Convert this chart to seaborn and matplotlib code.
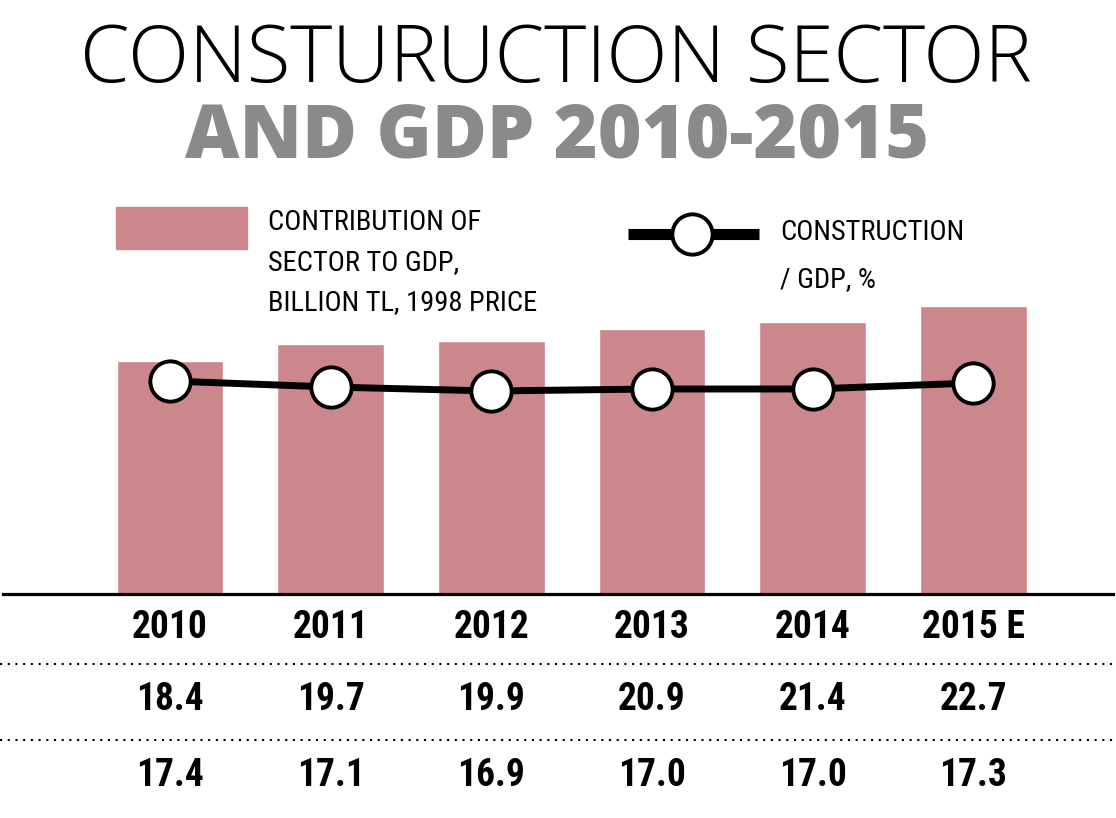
import matplotlib
matplotlib.use("Agg")
import matplotlib.pyplot as plt
import seaborn as sns
import pandas as pd
from matplotlib.lines import Line2D
from matplotlib.patches import Rectangle

# data
years = ['2010', '2011', '2012', '2013', '2014', '2015 E']
contribution = [18.4, 19.7, 19.9, 20.9, 21.4, 22.7]   # billion TL, 1998 price
share = [17.4, 17.1, 16.9, 17.0, 17.0, 17.3]          # construction / GDP, %

df = pd.DataFrame({'year': years, 'contribution': contribution, 'share': share})

pink = '#cb878c'
grey = '#8a8a8a'
narrow = ['Roboto Condensed', 'DejaVu Sans']

sns.set_style('white')
plt.rcParams['font.family'] = narrow
plt.rcParams['font.stretch'] = 'condensed'
plt.rcParams['text.color'] = 'black'

W, H = 1116, 818
fig = plt.figure(figsize=(W / 100, H / 100), dpi=100)

def fy(py):
    # pixel from top -> figure fraction
    return 1 - py / H

ax = fig.add_axes([3 / W, fy(594), 1110 / W, (594 - 200) / H])
sns.barplot(data=df, x='year', y='contribution', color=pink, width=0.665,
            saturation=1, ax=ax)
ax.set_xlim(-1.04, 5.87)
ax.set_ylim(0, 31.05)
ax.set_xlabel('')
ax.set_ylabel('')
ax.set_yticks([])
for s in ['top', 'left', 'right']:
    ax.spines[s].set_visible(False)
ax.spines['bottom'].set_color('black')
ax.spines['bottom'].set_linewidth(2.3)
ax.tick_params(axis='x', length=0, pad=11, labelsize=27, labelcolor='black')
for lab in ax.get_xticklabels():
    lab.set_fontweight('bold')

# line on a twin axis
ax2 = ax.twinx()
ax2.plot(range(len(years)), share, color='black', lw=5, marker='o',
         markersize=29, markerfacecolor='white', markeredgecolor='black',
         markeredgewidth=2.8, zorder=3)
ax2.set_ylim(6.75, 26.45)
ax2.set_yticks([])
for s in ['top', 'left', 'right', 'bottom']:
    ax2.spines[s].set_visible(False)

# value rows under the axis
tr = matplotlib.transforms.blended_transform_factory(ax.transData, fig.transFigure)
for i in range(len(years)):
    ax.text(i, fy(700), f'{contribution[i]:.1f}', transform=tr, ha='center',
            va='center', fontsize=27, fontweight='bold')
    ax.text(i, fy(776), f'{share[i]:.1f}', transform=tr, ha='center',
            va='center', fontsize=27, fontweight='bold')

for py in [664, 740]:
    fig.add_artist(Line2D([0, 1], [fy(py), fy(py)], transform=fig.transFigure,
                          color='black', lw=1.5, linestyle=(0, (1, 2.7))))

# titles
fig.text(556 / W, fy(82), 'CONSTURUCTION SECTOR', ha='center', va='baseline',
         fontsize=57.5, family='Open Sans', fontweight='light', fontstretch='normal')
fig.text(557 / W, fy(158), 'AND GDP 2010-2015', ha='center', va='baseline',
         fontsize=54, family='Open Sans', fontweight='heavy', fontstretch='normal',
         color=grey)

# legend
fig.add_artist(Rectangle((116 / W, fy(249)), 131 / W, 42 / H,
                         transform=fig.transFigure, color=pink))
for k, t in enumerate(['CONTRIBUTION OF', 'SECTOR TO GDP,', 'BILLION TL, 1998 PRICE']):
    fig.text(268 / W, fy(230 + 40 * k), t, ha='left', va='baseline', fontsize=20.5)
fig.add_artist(Line2D([628 / W, 759 / W], [fy(233.5), fy(233.5)],
                      transform=fig.transFigure, color='black', lw=8,
                      solid_capstyle='butt'))
fig.add_artist(Line2D([692 / W], [fy(233.5)], transform=fig.transFigure,
                      marker='o', markersize=29, markerfacecolor='white',
                      markeredgecolor='black', markeredgewidth=2.8))
fig.text(780 / W, fy(240), 'CONSTRUCTION', ha='left', va='baseline', fontsize=20.5)
fig.text(780 / W, fy(287), '/ GDP, %', ha='left', va='baseline', fontsize=20.5)

fig.savefig('out.png', dpi=100)
